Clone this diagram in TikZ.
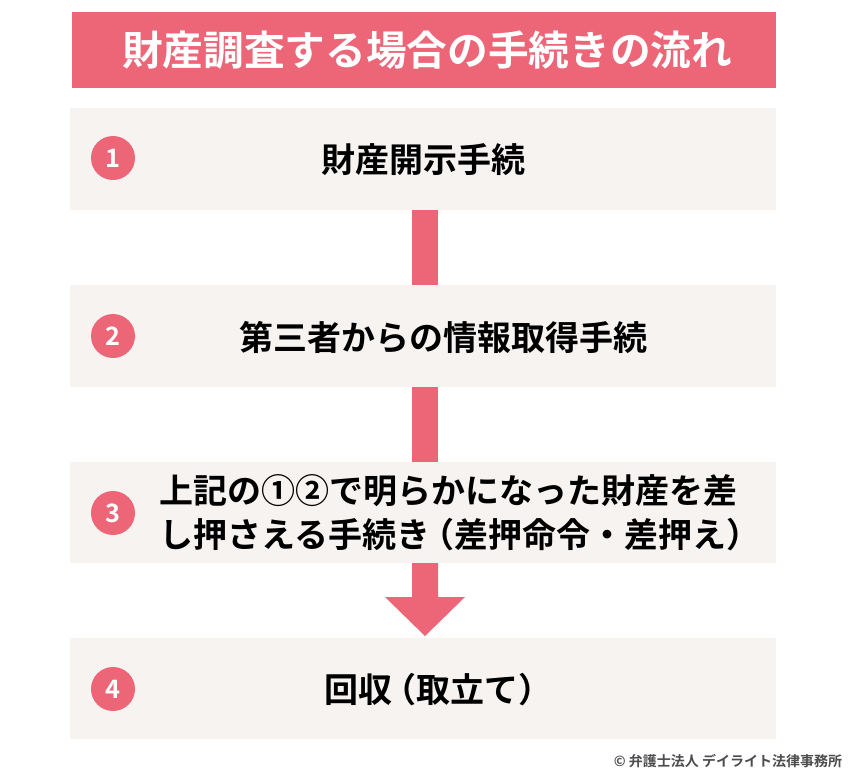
\documentclass[tikz,border=0pt]{standalone}
\usepackage{fontspec}
\newfontfamily\cjk{Noto Sans CJK JP Bold}
\definecolor{rosa}{RGB}{236,102,120}
\definecolor{bgbox}{RGB}{246,243,241}
\tikzset{
  stepbox/.style={fill=bgbox,draw=none},
  stepnum/.style={circle,fill=rosa,text=white,minimum size=44*0.75pt,inner sep=0pt,font=\cjk\fontsize{19}{19}\selectfont},
  steptxt/.style={font=\cjk\fontsize{25.5}{33}\selectfont,align=left,inner sep=0.75pt},
}
\begin{document}
\begin{tikzpicture}[x=0.75pt,y=0.75pt,yscale=-1,xscale=1]
\useasboundingbox (0,0) rectangle (850,779);
% title bar
\fill [rosa] (72,12) rectangle (776,88);
\node (title) at (427,50) [text=white,font=\cjk\fontsize{30.5}{30}\selectfont] {財産調査する場合の手続きの流れ};
% step boxes
\fill [stepbox] (70,108) rectangle (776,210);
\fill [stepbox] (70,285) rectangle (776,387);
\fill [stepbox] (70,462) rectangle (776,563);
\fill [stepbox] (70,638) rectangle (776,739);
% numbers
\node (n1) at (113,158) [stepnum] {1};
\node (n2) at (113,336) [stepnum] {2};
\node (n3) at (113,513) [stepnum] {3};
\node (n4) at (113,689) [stepnum] {4};
% texts
\node (t1) at (423,160) [steptxt] {財産開示手続};
\node (t2) at (443,337) [steptxt] {第三者からの情報取得手続};
\node (t3) at (455,513) [steptxt] {上記の①②で明らかになった財産を差\\し押さえる手続き\kern-0.3em（差押命令・差押え）\kern-0.3em};
\node (t4) at (433,690) [steptxt] {回収\kern-0.3em（取立て）\kern-0.3em};
% connectors
\fill [rosa] (412,210) rectangle (438,285);
\fill [rosa] (412,387) rectangle (438,462);
\fill [rosa] (412,563) rectangle (438,597) (385,597) -- (465,597) -- (425,636) -- cycle;
% credit
\node (credit) at (728,761) [text=black!70,font=\cjk\fontsize{10.5}{10}\selectfont] {© 弁護士法人 デイライト法律事務所};
\end{tikzpicture}
\end{document}
